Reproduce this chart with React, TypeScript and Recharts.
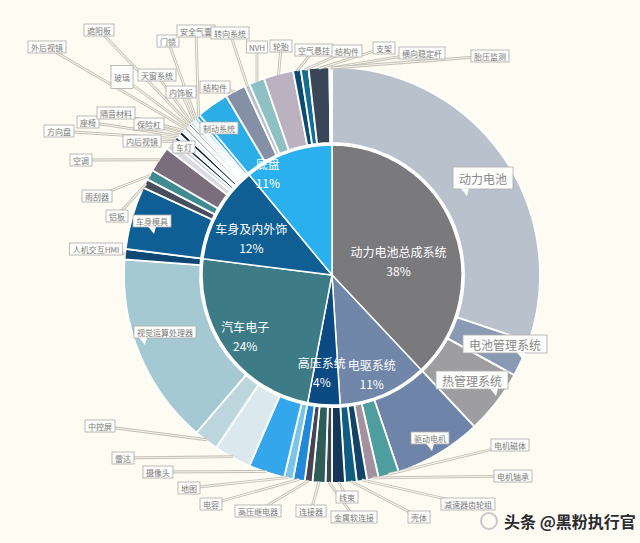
import { PieChart, Pie, Cell } from 'recharts';

// inner ring: system groups (share of total, %)
const groupNames = ['动力电池总成系统', '电驱系统', '高压系统', '汽车电子', '车身及内外饰', '底盘'];
const groupShares = [38, 11, 4, 24, 12, 11];

// outer ring: parts, clockwise from 12 o'clock (share of total, %)
const partNames = [
  '动力电池', '电池管理系统', '热管理系统',
  '驱动电机', '电机磁体', '电机轴承', '减速器齿轮组', '壳体',
  '线束', '金属软连接', '连接器', '高压继电器', '电容',
  '地图', '摄像头', '雷达', '中控屏', '视觉运算处理器', '人机交互HMI',
  '车身模具', '铝板', '雨刮器', '空调', '车灯', '内后视镜', '方向盘', '座椅', '保险杠',
  '隔音材料', '外后视镜', '玻璃', '遮阳板', '天窗系统', '内饰板', '门锁', '安全气囊',
  '制动系统', '结构件', '转向系统', 'NVH', '轮胎', '空气悬挂', '结构件', '支架', '横向稳定杆', '胎压监测',
];
const partShares = [
  30.2, 2.8, 5.0,
  6.8, 1.6, 0.9, 0.8, 0.9,
  1.0, 0.5, 1.0, 0.6, 0.9,
  0.7, 2.8, 2.9, 1.9, 14.9, 0.8,
  4.9, 0.7, 0.8, 2.0, 0.6, 0.3, 0.3, 0.25, 0.3,
  0.25, 0.25, 0.2, 0.2, 0.2, 0.25, 0.2, 0.3,
  2.5, 1.6, 0.4, 1.2, 2.3, 0.6, 0.6, 1.6, 0.1, 0.1,
];

const groupColors = ['#7a7a7c', '#7187a9', '#0b4a82', '#3d7c87', '#0f5f94', '#2bb0ef'];
const partColors = [
  '#b9c1cd', '#8a9ab4', '#9e9ea0',
  '#6e84a9', '#4e9ea0', '#a3929d', '#12446a', '#0f5d80',
  '#13365a', '#3b4755', '#2e5d58', '#4a4452', '#2289d8',
  '#7cc3ea', '#33a6ec', '#dbe8ed', '#bdd5dc', '#a5c9d2', '#0d4874',
  '#0d5f96', '#474f5e', '#3f8b90', '#7c6d7c', '#d9dbe0', '#c6c9d2', '#15304a', '#e9ecef', '#0c2238',
  '#eef0f2', '#a8adb5', '#d5d9df', '#5d3d4f', '#7cc7ef', '#eaf3f8', '#3db0ea', '#2aa7e5',
  '#2bade8', '#8590a7', '#b7bfca', '#8fc0c3', '#bbb1c0', '#0d4c72', '#156d90', '#3a4558', '#3a4558', '#3a4558',
];

// callout placement: [x, y, kind, pointer dx]
const calloutSpots: [number, number, string, number?][] = [
  [483, 178, 'big', -18], [505, 344, 'big', 16], [472, 380, 'big', 22],
  [430, 438, 'in', 0], [510, 445, 'tag'], [513, 476, 'tag'], [468, 504, 'tag'], [419, 517, 'tag'],
  [347, 497, 'tag'], [354, 517, 'tag'], [311, 511, 'tag'], [258, 511, 'tag'], [211, 504, 'tag'],
  [189, 488, 'tag'], [158, 472, 'tag'], [123, 458, 'tag'], [100, 426, 'tag'], [165, 332, 'in', -22], [96, 249, 'tag'],
  [152, 221, 'in', 0], [117, 216, 'tag'], [97, 196, 'tag'], [81, 160, 'tag'], [184, 147, 'tag'], [142, 141, 'tag'],
  [59, 131, 'tag'], [88, 122, 'tag'], [149, 124, 'tag'],
  [116, 113, 'tag'], [47, 47, 'tag'], [122, 77, 'box'], [99, 30, 'tag'], [157, 75, 'tag'], [181, 92, 'tag'],
  [168, 41, 'tag'], [196, 31, 'tag'],
  [219, 128, 'in', -12], [215, 87, 'tag'], [230, 33, 'tag'], [257, 47, 'tag'], [281, 46, 'tag'], [314, 50, 'tag'],
  [347, 51, 'tag'], [384, 48, 'tag'], [422, 53, 'tag'], [490, 56, 'tag'],
];

// inner label placement: [radius, clockwise angle from top]
const groupLabelSpots = [[68, 78], [106, 158], [97, 186], [106, 235], [89, 295], [121, 328]];

const CX = 332;
const CY = 275;
const FONT = '"Noto Sans CJK SC", "Noto Sans", sans-serif';

const groupData = groupNames.map((name, i) => ({ name, value: groupShares[i] }));
const partData = partNames.map((name, i) => ({ name, value: partShares[i] }));

function textWidth(s: string, fs: number) {
  let w = 0;
  for (const ch of s) w += /[\x00-\x7f]/.test(ch) ? fs * 0.62 : fs;
  return w;
}

const renderGroupLabel = (p: any) => {
  const [r, a] = groupLabelSpots[p.index];
  const rad = (a * Math.PI) / 180;
  const x = p.cx + r * Math.sin(rad);
  const y = p.cy - r * Math.cos(rad);
  return (
    <g>
      <text x={x} y={y - 9} textAnchor="middle" dominantBaseline="central" fill="#fff" fontSize={12} fontFamily={FONT}>
        {groupNames[p.index]}
      </text>
      <text x={x} y={y + 10} textAnchor="middle" dominantBaseline="central" fill="#fff" fontSize={12} fontFamily={FONT}>
        {groupShares[p.index]}%
      </text>
    </g>
  );
};

const renderLeader = (p: any) => {
  const [x, y, kind] = calloutSpots[p.index];
  if (kind !== 'tag' && kind !== 'box') return <g />;
  const rad = (-p.midAngle * Math.PI) / 180;
  const ex = p.cx + (p.outerRadius - 1) * Math.cos(rad);
  const ey = p.cy + (p.outerRadius - 1) * Math.sin(rad);
  return (
    <g>
      <line x1={x} y1={y} x2={ex} y2={ey} stroke="#c2beb3" strokeWidth={2.8} />
      <line x1={x} y1={y} x2={ex} y2={ey} stroke="#f6f4ec" strokeWidth={1.1} />
    </g>
  );
};

const renderCallout = (p: any) => {
  const [x, y, kind, pdx] = calloutSpots[p.index];
  const text = partNames[p.index];
  const big = kind === 'big';
  const fs = big ? 12 : 8;
  let w = textWidth(text, fs) + (big ? 12 : 6);
  let h = big ? 18 : 12;
  if (p.index === 0) h = 22;
  if (kind === 'box') {
    w = 22;
    h = 23;
  }
  const bubble = kind === 'big' || kind === 'in';
  const px = x + (pdx ?? 0);
  return (
    <g>
      <rect x={x - w / 2} y={y - h / 2} width={w} height={h} fill="#fdfdfb" stroke="#ababab" strokeWidth={0.8} />
      {bubble && (
        <polygon
          points={`${px - 4},${y + h / 2 - 0.5} ${px + 4},${y + h / 2 - 0.5} ${px + 2},${y + h / 2 + 7}`}
          fill="#fdfdfb"
        />
      )}
      <text
        x={x}
        y={y + 0.5}
        textAnchor="middle"
        dominantBaseline="central"
        fill={big ? '#8a8a8a' : '#7a7a7a'}
        fontSize={fs}
        fontFamily={FONT}
      >
        {text}
      </text>
    </g>
  );
};

export default function App() {
  return (
    <div style={{ position: 'absolute', left: 0, top: 0, width: 640, height: 543, background: '#fdfbf2', overflow: 'hidden' }}>
      <PieChart width={640} height={543} margin={{ top: 0, right: 0, bottom: 0, left: 0 }}>
        {/* leader lines only */}
        <Pie
          data={partData}
          dataKey="value"
          cx={CX}
          cy={CY}
          innerRadius={132}
          outerRadius={208}
          startAngle={90}
          endAngle={-270}
          fill="none"
          stroke="none"
          label={renderLeader}
          labelLine={false}
          isAnimationActive={false}
        />
        <Pie
          data={groupData}
          dataKey="value"
          cx={CX}
          cy={CY}
          outerRadius={130}
          startAngle={90}
          endAngle={-270}
          stroke="#ffffff"
          strokeWidth={1.5}
          label={renderGroupLabel}
          labelLine={false}
          isAnimationActive={false}
        >
          {groupData.map((d, i) => (
            <Cell key={`g-${i}`} fill={groupColors[i]} />
          ))}
        </Pie>
        <Pie
          data={partData}
          dataKey="value"
          cx={CX}
          cy={CY}
          innerRadius={132}
          outerRadius={208}
          startAngle={90}
          endAngle={-270}
          stroke="#ffffff"
          strokeWidth={1.8}
          label={renderCallout}
          labelLine={false}
          isAnimationActive={false}
        >
          {partData.map((d, i) => (
            <Cell key={`p-${i}`} fill={partColors[i]} />
          ))}
        </Pie>
      </PieChart>
      <div
        style={{
          position: 'absolute',
          left: 480,
          top: 509,
          display: 'flex',
          alignItems: 'center',
          fontFamily: FONT,
          fontSize: 16,
          fontWeight: 700,
          color: '#2b2b2b',
          textShadow: '0 0 2px #fff, 0 0 2px #fff, 0 0 3px #fff',
        }}
      >
        <span
          style={{
            width: 18,
            height: 18,
            borderRadius: 9,
            border: '2px solid #c8c8c8',
            marginRight: 6,
            boxSizing: 'border-box',
          }}
        />
        头条 @黑粉执行官
      </div>
    </div>
  );
}
